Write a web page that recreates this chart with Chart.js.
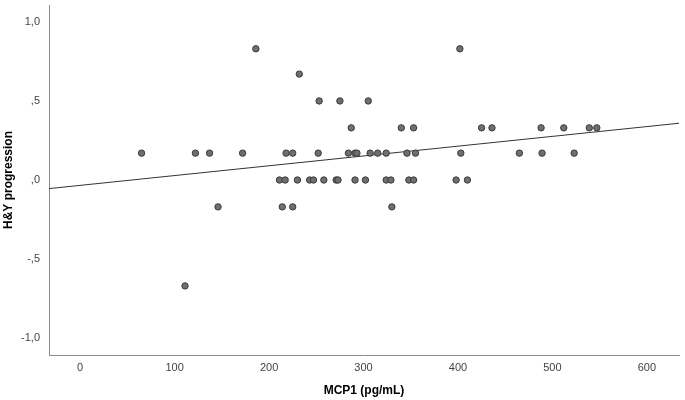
<!DOCTYPE html>
<html>
<head>
<meta charset="utf-8">
<script src="https://cdn.jsdelivr.net/npm/chart.js@4"></script>
<style>
    html, body { margin: 0; padding: 0; background: #fff; }
    #chart { display: block; }
</style>
</head>
<body>
<canvas id="chart" width="685" height="400"></canvas>
<script>
'use strict'

// MCP1 (pg/mL) per subject, grouped by H&Y level
var mcp1 = [
    186, 402,
    232,
    253, 275, 305,
    287, 340, 353, 425, 436, 488, 512, 539, 547,
    65, 122, 137, 172, 218, 225, 252, 284, 291, 293, 307, 315, 324, 346, 355, 403, 465, 489, 523,
    211, 217, 230, 243, 247, 258, 271, 273, 291, 302, 324, 329, 348, 353, 398, 410,
    146, 214, 225, 330,
    111
];
var hyProgression = [
    0.83, 0.83,
    0.67,
    0.5, 0.5, 0.5,
    0.33, 0.33, 0.33, 0.33, 0.33, 0.33, 0.33, 0.33, 0.33,
    0.17, 0.17, 0.17, 0.17, 0.17, 0.17, 0.17, 0.17, 0.17, 0.17, 0.17, 0.17, 0.17, 0.17, 0.17, 0.17, 0.17, 0.17, 0.17,
    0, 0, 0, 0, 0, 0, 0, 0, 0, 0, 0, 0, 0, 0, 0, 0,
    -0.17, -0.17, -0.17, -0.17,
    -0.67
];

// fit line
var fitIntercept = -0.034;
var fitSlope = 0.00062;

var xTicks = [0, 100, 200, 300, 400, 500, 600];
var yTicks = [-1, -0.5, 0, 0.5, 1];
var xMin = -33, xMax = 634;
var yMin = -1.107, yMax = 1.107;

function spssNumber(v) {
    // 0.5 -> ",5", -1 -> "-1,0"
    var s = Number(v).toFixed(1).replace('.', ',');
    return s.replace(/^(-?)0,/, '$1,');
}

var points = [];
for (var i = 0; i < mcp1.length; i++) {
    points.push({x: mcp1[i], y: hyProgression[i]});
}

var fitLine = [
    {x: xMin, y: fitIntercept + fitSlope * xMin},
    {x: xMax, y: fitIntercept + fitSlope * xMax}
];

var tickFont = {family: '"Liberation Sans", Arial, sans-serif', size: 11};
var titleFont = {family: '"Liberation Sans", Arial, sans-serif', size: 12, weight: 'bold'};

// no extra room for edge labels, the plot box is fixed
function noEdgePadding(scale) {
    scale.paddingTop = 0;
    scale.paddingBottom = 0;
    scale.paddingLeft = 0;
    scale.paddingRight = 0;
}

new Chart(document.getElementById('chart'), {
    type: 'scatter',
    data: {
        datasets: [
            {
                data: points,
                backgroundColor: '#6f6f6f',
                borderColor: '#3a3a3a',
                borderWidth: 1,
                pointRadius: 3.2
            },
            {
                type: 'line',
                data: fitLine,
                borderColor: '#333',
                borderWidth: 1,
                pointRadius: 0,
                fill: false
            }
        ]
    },
    options: {
        responsive: false,
        animation: false,
        events: [],
        layout: {padding: {top: 3, right: 6, left: 0, bottom: 0}},
        plugins: {
            legend: {display: false},
            tooltip: {enabled: false}
        },
        scales: {
            x: {
                type: 'linear',
                min: xMin,
                max: xMax,
                afterBuildTicks: function (scale) {
                    scale.ticks = xTicks.map(function (v) { return {value: v}; });
                },
                afterFit: function (scale) {
                    scale.height = 45;
                    noEdgePadding(scale);
                },
                grid: {display: false, drawTicks: false},
                border: {display: true, color: '#8a8a8a', width: 1},
                ticks: {
                    font: tickFont,
                    color: '#444',
                    padding: 6,
                    maxRotation: 0,
                    callback: function (v) { return String(v); }
                },
                title: {
                    display: true,
                    text: 'MCP1 (pg/mL)',
                    font: titleFont,
                    color: '#000',
                    padding: {top: 0, bottom: 2}
                }
            },
            y: {
                type: 'linear',
                min: yMin,
                max: yMax,
                afterBuildTicks: function (scale) {
                    scale.ticks = yTicks.map(function (v) { return {value: v}; });
                },
                afterFit: function (scale) {
                    scale.width = 49;
                    noEdgePadding(scale);
                },
                grid: {display: false, drawTicks: false},
                border: {display: true, color: '#8a8a8a', width: 1},
                ticks: {
                    font: tickFont,
                    color: '#444',
                    padding: 9,
                    callback: function (v) { return spssNumber(v); }
                },
                title: {
                    display: true,
                    text: 'H&Y progression',
                    font: titleFont,
                    color: '#000',
                    padding: {top: 1, bottom: 0}
                }
            }
        }
    }
});
</script>
</body>
</html>
